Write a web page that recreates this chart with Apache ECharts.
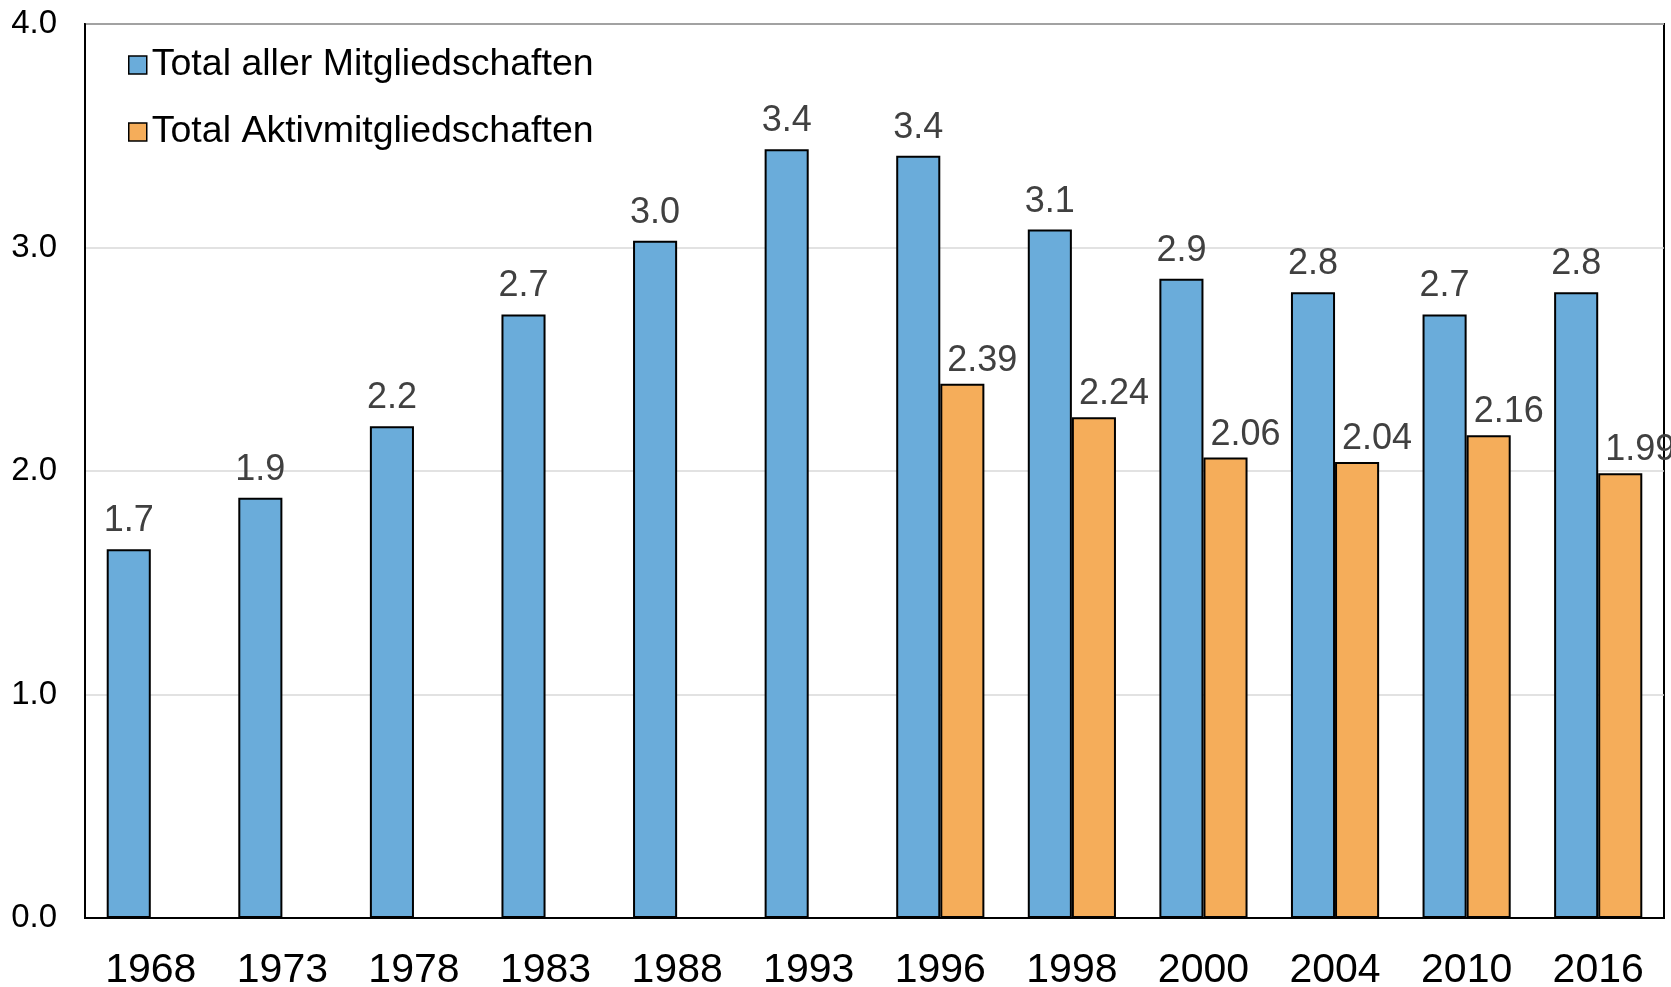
<!DOCTYPE html>
<html>
<head>
<meta charset="utf-8">
<script src="https://cdn.jsdelivr.net/npm/echarts@6/dist/echarts.min.js"></script>
<style>
  html, body { margin: 0; padding: 0; background: #fff; }
  #chart { width: 1671px; height: 987px; }
</style>
</head>
<body>
<div id="chart"></div>
<script>
// Jahre
var years = ['1968', '1973', '1978', '1983', '1988', '1993', '1996', '1998', '2000', '2004', '2010', '2016']
// Total aller Mitgliedschaften (Balkenhöhe aus dem Bild geschätzt)
var totalValues = [1.65, 1.88, 2.2, 2.7, 3.03, 3.44, 3.41, 3.08, 2.86, 2.8, 2.7, 2.8]
var totalLabels = ['1.7', '1.9', '2.2', '2.7', '3.0', '3.4', '3.4', '3.1', '2.9', '2.8', '2.7', '2.8']
// Total Aktivmitgliedschaften (erst ab 1996)
var activeValues = [null, null, null, null, null, null, 2.39, 2.24, 2.06, 2.04, 2.16, 1.99]
var yTicks = [0, 1, 2, 3, 4]

var font = "'Liberation Sans', Arial, sans-serif"
var chart = echarts.init(document.getElementById('chart'))

chart.setOption({
  animation: false,
  textStyle: { fontFamily: font },
  grid: {
    left: 85,
    right: 7,
    top: 24,
    bottom: 69,
    outerBoundsMode: 'none',
    show: true,
    borderColor: '#000',
    borderWidth: 2
  },
  legend: {
    orient: 'vertical',
    left: 123,
    top: 41,
    itemWidth: 18,
    itemHeight: 18,
    itemGap: 29,
    icon: 'rect',
    textStyle: { fontSize: 37.5, color: '#000', lineHeight: 38, fontFamily: font },
    itemStyle: { borderColor: '#000', borderWidth: 1.5 },
    data: ['Total aller Mitgliedschaften', 'Total Aktivmitgliedschaften']
  },
  xAxis: {
    type: 'category',
    data: years,
    axisTick: { show: false },
    axisLine: { lineStyle: { color: '#000', width: 2 } },
    axisLabel: { color: '#000', fontSize: 41, margin: 32, fontFamily: font }
  },
  yAxis: {
    type: 'value',
    min: yTicks[0],
    max: yTicks[yTicks.length - 1],
    interval: 1,
    axisLine: { show: true, lineStyle: { color: '#000', width: 2 } },
    axisTick: { show: false },
    splitLine: { lineStyle: { color: '#d9d9d9', width: 1.5 } },
    axisLabel: {
      color: '#000',
      fontSize: 33,
      margin: 28,
      fontFamily: font,
      formatter: function(v) { return v.toFixed(1) }
    }
  },
  series: [
    {
      name: 'Total aller Mitgliedschaften',
      type: 'bar',
      data: totalValues,
      barGap: '0%',
      barCategoryGap: '33%',
      itemStyle: { color: '#6aacda', borderColor: '#000', borderWidth: 2 },
      label: {
        show: true,
        position: 'top',
        distance: 10,
        fontSize: 36,
        color: '#404040',
        fontFamily: font,
        formatter: function(p) { return totalLabels[p.dataIndex] }
      }
    },
    {
      name: 'Total Aktivmitgliedschaften',
      type: 'bar',
      data: activeValues,
      barGap: '0%',
      barCategoryGap: '33%',
      itemStyle: { color: '#f5ad5a', borderColor: '#000', borderWidth: 2 },
      label: {
        show: true,
        position: 'top',
        distance: 5,
        offset: [20, 0],
        fontSize: 36,
        color: '#404040',
        fontFamily: font,
        formatter: function(p) { return p.value.toFixed(2) }
      }
    }
  ]
})
</script>
</body>
</html>
